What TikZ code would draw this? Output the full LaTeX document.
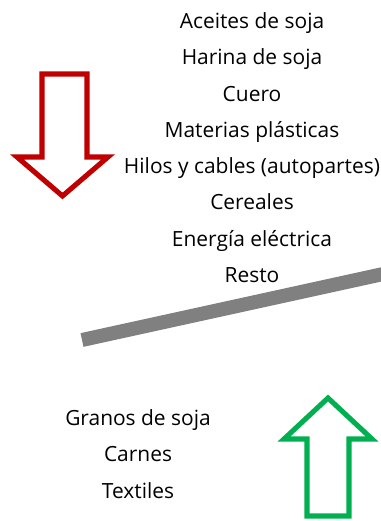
\documentclass[tikz,border=0pt]{standalone}
\usepackage{fontspec}
\setmainfont{Open Sans}
\usetikzlibrary{positioning, calc}
\definecolor{arrowred}{HTML}{C00000}
\definecolor{arrowgreen}{HTML}{00B050}
\definecolor{bargray}{HTML}{808080}
\tikzset{
	item/.style={inner sep=0pt, text height=18.5pt, text depth=8.3pt, font=\fontsize{15.7}{18}\selectfont},
	hollow/.style={line width=3.8pt, line join=miter},
}
\begin{document}
\begin{tikzpicture}[x=0.75pt, y=-0.75pt]
			\useasboundingbox (0,0) rectangle (381,521);
			% Falling items
			\node[item, anchor=base] (aceites) at (252,28.5) {Aceites de soja};
			\node[item, below=0pt of aceites] (harina) {Harina de soja};
			\node[item, below=0pt of harina] (cuero) {Cuero};
			\node[item, below=0pt of cuero] (plasticas) {Materias plásticas};
			\node[item, below=0pt of plasticas] (hilos) {Hilos y cables (autopartes)};
			\node[item, below=0pt of hilos] (cereales) {Cereales};
			\node[item, below=0pt of cereales] (energia) {Energía eléctrica};
			\node[item, below=0pt of energia] (resto) {Resto};
			% Rising items
			\node[item, anchor=base] (granos) at (138,425.5) {Granos de soja};
			\node[item, below=0pt of granos] (carnes) {Carnes};
			\node[item, below=0pt of carnes] (textiles) {Textiles};
			% Divider
			\draw[bargray, line width=10.5pt] (82,340) -- (400,270.3);
			% Arrows
			\draw[hollow, arrowred] (42,74) -- (87,74) -- (87,157) -- (108,157) -- (62.5,196) -- (17,157) -- (42,157) -- cycle;
			\draw[hollow, arrowgreen] (307,516) -- (349,516) -- (349,439) -- (372,439) -- (328,398) -- (284,439) -- (307,439) -- cycle;
		\end{tikzpicture}
\end{document}
